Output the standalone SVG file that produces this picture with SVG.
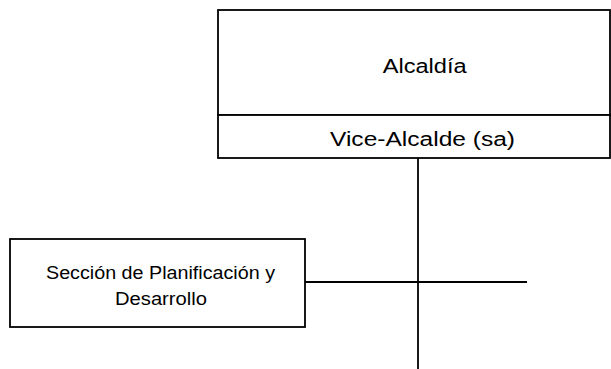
<svg xmlns="http://www.w3.org/2000/svg" width="611" height="369" viewBox="0 0 611 369">
<style>
.box{fill:#fff;stroke:#000;stroke-width:1.8}
.ln{stroke:#000;stroke-width:1.8;fill:none}
.t{font-family:"Liberation Sans",Arial,sans-serif;fill:#000;text-anchor:middle}
</style>
<rect width="611" height="369" fill="#fff"/>
<g id="connectors">
<line class="ln" x1="418" y1="158" x2="418" y2="369"/>
<line class="ln" x1="301" y1="282" x2="527" y2="282"/>
</g>
<g id="alcaldia">
<rect class="box" x="218" y="10" width="392" height="105"/>
<text class="t" x="424.7" y="73" font-size="19.5" textLength="84" lengthAdjust="spacingAndGlyphs">Alcaldía</text>
</g>
<g id="vicealcalde">
<rect class="box" x="218" y="115" width="392" height="43"/>
<text class="t" x="422.5" y="146" font-size="19.5" textLength="185" lengthAdjust="spacingAndGlyphs">Vice-Alcalde (sa)</text>
</g>
<g id="seccion">
<rect class="box" x="10" y="239" width="295" height="88"/>
<text class="t" x="160.5" y="279" font-size="18.7" textLength="229" lengthAdjust="spacingAndGlyphs">Sección de Planificación y</text>
<text class="t" x="161" y="304.5" font-size="18.7" textLength="92" lengthAdjust="spacingAndGlyphs">Desarrollo</text>
</g>
</svg>
